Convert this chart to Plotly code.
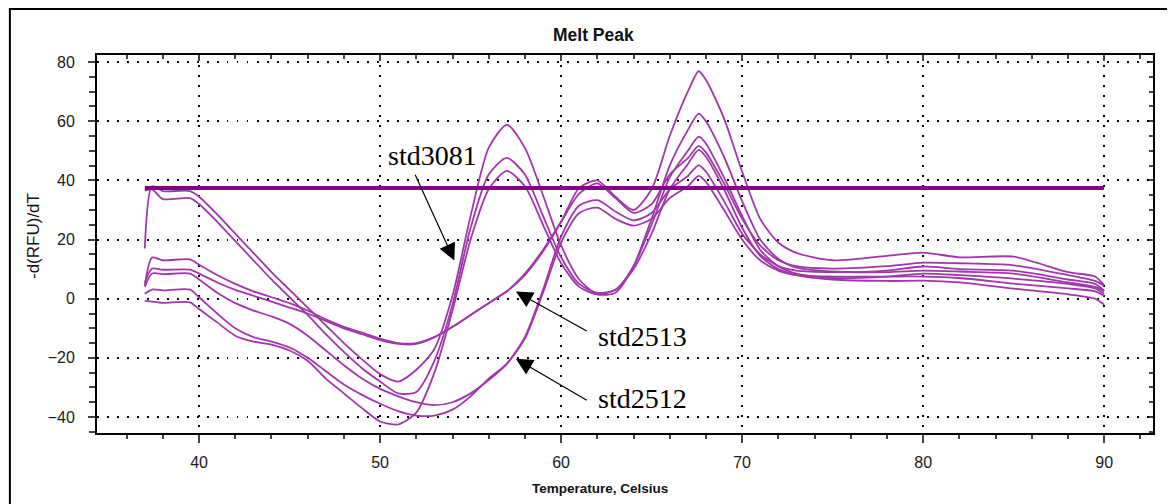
import plotly.graph_objects as go

# temperature grid (Celsius) shared by all melt curves
temps = [37, 37.4, 38, 39.5, 40, 41, 42, 43, 44, 45, 46, 47, 48, 49, 50, 51, 52, 53, 54, 55,
         56, 57, 58, 59, 60, 61, 62, 63, 64, 65, 66, 67, 67.6, 68, 69, 70, 71, 72, 73, 75,
         78, 80, 82, 85, 88, 89.5, 90]

# -d(RFU)/dT, one list per well
std3081_a = [17, 38, 36.4, 36.4, 34.5, 28.5, 22, 15.5, 9, 3, -3, -9, -15, -20.5, -25.5, -28, -24, -17, 1, 28,
             51, 58.8, 51, 35, 18, 6.5, 1.5, 2, 11, 27, 45, 57, 62.6, 60, 48, 33, 20, 13.5, 10.5, 9.2,
             9, 9.5, 9.2, 8.5, 5.5, 4, 2.5]
std3081_b = [36.5, 37, 33.7, 34, 32, 26, 19.5, 13, 6.5, 0.5, -5.5, -12, -18, -23.5, -28, -32, -31.5, -21, -2, 24,
             42, 47.6, 42, 28, 14, 5, 2, 3, 11, 25, 41, 50, 54.8, 52.5, 41, 28, 16.5, 11, 8.5, 7,
             7.5, 8.5, 8, 6.8, 5, 3.5, 1.7]
std3081_c = [-0.7, -1.0, -1.4, -1.2, -3.5, -8, -12.5, -14.5, -15.5, -17.5, -21, -27, -32, -37, -41.5, -42.5, -38.5, -25, -4, 20,
             37, 43.2, 38, 25, 12, 4, 1.5, 3, 10, 22, 37, 45.5, 50.3, 48, 37, 24, 14.5, 10, 8, 6.5,
             6, 6.1, 5.5, 3.4, 1.5, 0, -2]
std2513_a = [4.4, 13.9, 13, 13.3, 11.5, 8, 5, 2.5, 0.5, -1.5, -4, -7, -9.5, -11.5, -13.5, -15, -15, -13, -9.5, -5.5,
             -1.5, 2.5, 8, 16, 26, 37.5, 40, 34.5, 30, 37, 55, 70, 76.9, 74, 61, 43, 27, 19, 15.5, 13,
             14.5, 15.6, 14, 14.2, 9, 7.5, 4.5]
std2513_b = [5.5, 10.2, 9.8, 9.8, 8.5, 5.5, 3, 1, -1, -3, -5, -7.5, -10, -12, -14, -15.3, -15.3, -13, -9.5, -5.5,
             -1.5, 2.5, 8.5, 16.5, 26, 35.5, 39, 34, 29, 32, 42, 47.5, 51.7, 49.5, 39, 27, 18, 13, 11, 10.2,
             11, 12.2, 12, 11.3, 8, 6, 4.4]
std2512_a = [4, 8.5, 8.3, 8.5, 6.5, 2, -1.5, -4, -6, -8.5, -12.5, -17.5, -22.5, -27, -30.5, -33, -35, -36, -35, -32,
             -27.5, -22, -13, 3, 21, 31.5, 33.3, 29.5, 26.5, 29, 37, 41.5, 45.2, 43, 33, 22, 15, 11, 9.5, 9,
             9.5, 10.9, 10, 9.5, 6.5, 5, 2.7]
std2512_b = [1.7, 3.1, 2.8, 3.1, 0.5, -5, -10, -13, -14.5, -16.5, -20, -24.5, -29, -32.5, -35.5, -38, -39.5, -39.5, -37.5, -33,
             -27, -22, -13.5, 2, 19, 29, 30.8, 27, 24.7, 27, 34, 38, 41.5, 39.5, 30, 20, 13, 9.5, 8, 7.5,
             7.5, 7.5, 7, 5.1, 3.5, 2.5, 1]

threshold = 37.4
threshold_span = [37, 90]

x_ticks = [40, 50, 60, 70, 80, 90]
y_ticks = [-40, -20, 0, 20, 40, 60, 80]

# labels with arrows: (text, text x, text y, tip x, tip y, tail x, tail y)
labels = [
    ("std3081", 52.9, 48.3, 54.1, 12.9, 51.9, 42.4),
    ("std2513", 64.5, -12.9, 57.5, 2.4, 61.5, -11.2),
    ("std2512", 64.5, -33.6, 57.5, -20.3, 61.5, -34.6),
]

CURVE = "rgb(160,55,170)"
DARK = "#840084"
AXIS_FONT = "Liberation Sans, Arial, sans-serif"

fig = go.Figure()

for vals in [std3081_a, std3081_b, std3081_c, std2513_a, std2513_b, std2512_a, std2512_b]:
    fig.add_trace(go.Scatter(x=temps, y=vals, mode="lines", hoverinfo="skip",
                             line=dict(color=CURVE, width=1.8, shape="spline", smoothing=0.7)))

fig.add_trace(go.Scatter(x=threshold_span, y=[threshold, threshold], mode="lines",
                         line=dict(color=DARK, width=4), hoverinfo="skip"))

# empty trace so the mirrored top/right axes get drawn with inward ticks
fig.add_trace(go.Scatter(x=[], y=[], xaxis="x2", yaxis="y2", hoverinfo="skip"))

grid = dict(showgrid=True, gridcolor="black", gridwidth=1.5, griddash="1.5px,8.5px", zeroline=False)

# page body adds 8px, so the figure is 8px smaller and margins shifted
fig.update_layout(
    width=1167, height=496,
    margin=dict(l=89, r=22, t=47, b=71),
    paper_bgcolor="white", plot_bgcolor="white",
    showlegend=False,
    font=dict(family=AXIS_FONT, color="#1a1a1a"),
    xaxis=dict(range=[34.36, 92.7], tickvals=x_ticks, ticks="outside", ticklen=8, tickwidth=1.5,
               minor=dict(dtick=2, tick0=30, ticks="outside", ticklen=4, tickwidth=1.5, showgrid=False),
               showline=True, linecolor="black", linewidth=2, tickfont=dict(size=16),
               ticklabelstandoff=6, **grid),
    yaxis=dict(range=[-45.4, 82.4], tickvals=y_ticks, ticks="outside", ticklen=7, tickwidth=1.5,
               minor=dict(dtick=5, tick0=0, ticks="outside", ticklen=6, tickwidth=1.5, showgrid=False),
               showline=True, linecolor="black", linewidth=2, tickfont=dict(size=16),
               ticklabelstandoff=10, **grid),
    xaxis2=dict(overlaying="x", side="top", anchor="y2", matches="x", range=[34.36, 92.7],
                tickvals=x_ticks, ticks="inside", ticklen=6, tickwidth=1.5, showticklabels=False,
                minor=dict(dtick=2, tick0=30, ticks="inside", ticklen=4, tickwidth=1.5),
                showline=True, linecolor="black", linewidth=2, showgrid=False, zeroline=False),
    yaxis2=dict(overlaying="y", side="right", anchor="x2", matches="y", range=[-45.4, 82.4],
                tickvals=y_ticks, ticks="inside", ticklen=4, tickwidth=1.5, showticklabels=False,
                minor=dict(dtick=5, tick0=0, ticks="inside", ticklen=4, tickwidth=1.5),
                showline=True, linecolor="black", linewidth=2, showgrid=False, zeroline=False),
)

# chart and axis titles
fig.add_annotation(text="<b>Melt Peak</b>", xref="paper", yref="paper", x=0.4697, y=1.0,
                   yanchor="bottom", yshift=8, showarrow=False, font=dict(size=17.5, color="#111"))
fig.add_annotation(text="<b>Temperature, Celsius</b>", xref="paper", yref="paper", x=0.476, y=0,
                   yanchor="top", yshift=-46, showarrow=False, font=dict(size=13.5, color="#111"))
fig.add_annotation(text="-d(RFU)/dT", xref="paper", yref="paper", x=0, xanchor="center", xshift=-64,
                   y=0.5, yshift=8, textangle=-90, showarrow=False, font=dict(size=17, color="#111"))

for text, tx, ty, hx, hy, ax, ay in labels:
    fig.add_annotation(text=text, x=tx, y=ty, showarrow=False,
                       font=dict(family="Liberation Serif, Times New Roman, serif", size=28, color="black"))
    fig.add_annotation(text="", x=hx, y=hy, ax=ax, ay=ay, axref="x", ayref="y",
                       showarrow=True, arrowhead=2, arrowsize=2.8, arrowwidth=1.2, arrowcolor="black")

# outer frame of the exported picture
fig.add_shape(type="rect", xref="paper", yref="paper", x0=-0.0825, y0=-0.3, x1=1.05, y1=1.1217,
              line=dict(color="black", width=2), layer="above")

fig.write_html("out.html")
